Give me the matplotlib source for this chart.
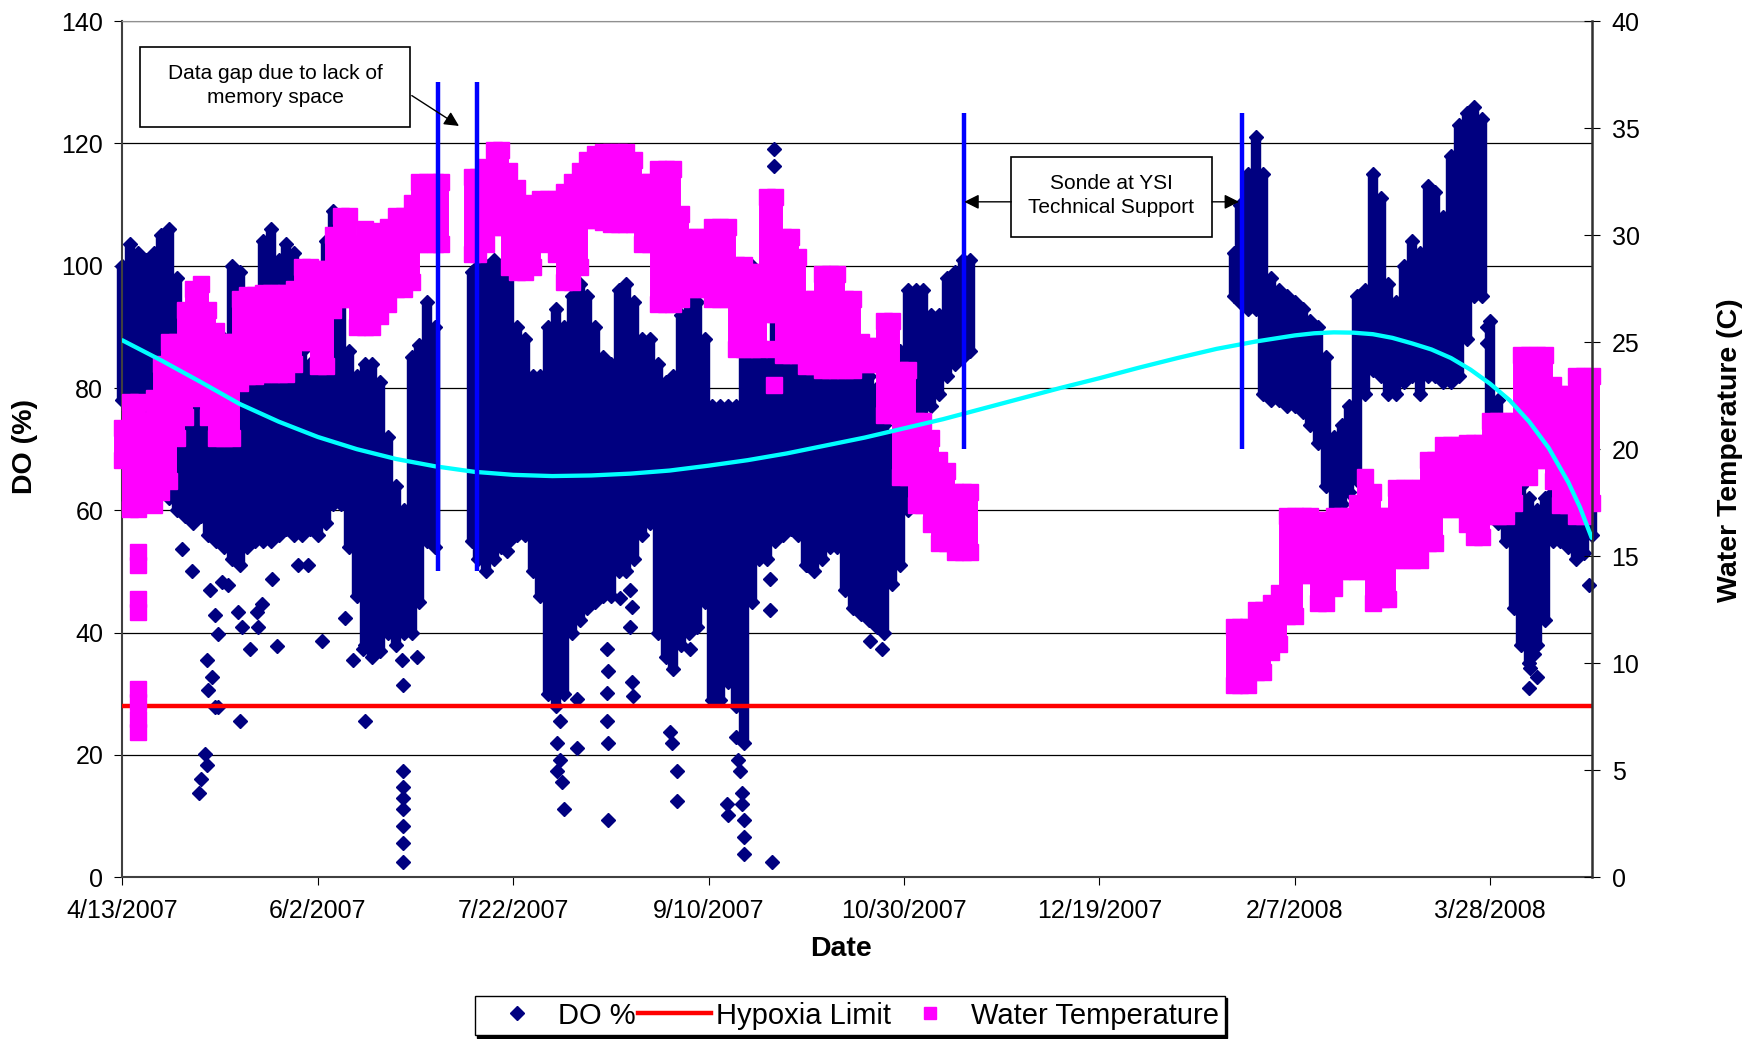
import matplotlib
matplotlib.use("Agg")
import matplotlib.pyplot as plt
from matplotlib.lines import Line2D
from matplotlib.patches import Rectangle

plt.rcParams['font.family'] = ['Liberation Sans', 'DejaVu Sans']

# x values are days after 4/13/2007
date_ticks = [0, 50, 100, 150, 200, 250, 300, 350]
date_labels = ['4/13/2007', '6/2/2007', '7/22/2007', '9/10/2007',
               '10/30/2007', '12/19/2007', '2/7/2008', '3/28/2008']

# DO % readings: low / high of the dense cloud, per ~2 day window
do_day = [0, 2, 4, 6, 8, 10, 12, 14, 16, 18, 20, 22, 24, 26, 28, 30, 32, 34, 36, 38,
          40, 42, 44, 46, 48, 50, 52, 54, 56, 58, 60, 62, 64, 66, 68, 70, 72, 74, 76, 78, 80,
          89.5, 91, 93, 95, 97, 99, 101, 103, 105, 107, 109, 111, 113, 115, 117, 119, 121,
          123, 125, 127, 129, 131, 133, 135, 137, 139, 141, 143, 145, 147, 149, 151, 153,
          155, 157, 159, 161, 163, 165, 167, 169, 171, 173, 175, 177, 179, 181, 183, 185,
          187, 189, 191, 193, 195, 197, 199, 201, 203, 205, 207, 209, 211, 213, 215, 217,
          284.5, 286, 288, 290, 292, 294, 296, 298, 300, 302, 304, 306, 308, 310, 312, 314,
          316, 318, 320, 322, 324, 326, 328, 330, 332, 334, 336, 338, 340, 342, 344, 346,
          348, 350, 352, 354, 356, 358, 360, 362, 364, 366, 368, 370, 372, 374, 376]
do_low = [78, 75, 74, 75, 72, 66, 62, 60, 59, 58, 59, 56, 55, 54, 52, 51, 54, 55, 55, 55,
          56, 57, 56, 56, 57, 56, 58, 61, 61, 54, 46, 38, 36, 37, 40, 38, 40, 40, 45, 55, 54,
          55, 52, 50, 52, 54, 55, 56, 56, 50, 46, 30, 28, 30, 40, 42, 44, 45,
          46, 46, 50, 50, 52, 56, 58, 40, 36, 34, 38, 40, 41, 45, 29, 29,
          32, 28, 22, 45, 52, 52, 55, 56, 57, 56, 51, 50, 52, 54, 54, 47,
          44, 43, 42, 41, 40, 48, 51, 60, 68, 72, 77, 79, 82, 84, 85, 86,
          95, 94, 93, 93, 79, 78, 78, 77, 77, 76, 74, 71, 64, 59, 61, 63,
          65, 79, 83, 82, 79, 79, 81, 82, 79, 82, 82, 81, 81, 82, 88, 95,
          95, 72, 58, 55, 44, 38, 35, 38, 42, 55, 55, 54, 52, 53, 56]
do_high = [100, 103.5, 102, 101, 102, 105, 106, 98, 88, 86, 85, 82, 80, 88, 100, 99, 86, 84, 104, 106,
           101, 103.5, 102, 86, 84, 86, 104, 109, 97, 86, 82, 84, 84, 81, 72, 64, 60, 85, 87, 94, 90,
           99, 100, 100, 101, 100, 99, 90, 88, 82, 82, 90, 93, 90, 95, 97, 95, 90,
           85, 84, 96, 97, 94, 88, 88, 84, 81, 82, 92, 96, 94, 88, 77, 77,
           77, 77, 88, 100, 95, 86, 92, 90, 88, 86, 82, 82, 82, 82, 85, 93,
           85, 83, 82, 80, 74, 72, 86, 96, 96, 96, 92, 92, 98, 99, 101, 101,
           102, 110, 115, 121, 115, 98, 96, 95, 94, 93, 91, 90, 85, 72, 74, 77,
           95, 96, 115, 111, 97, 94, 100, 104, 102, 113, 112, 108, 118, 123, 125, 126,
           124, 91, 78, 68, 65, 64, 62, 60, 62, 63, 62, 64, 66, 70, 72]

# isolated DO readings away from the cloud
do_pt_day = [15.2, 17.7, 19.5, 20.1, 21.2, 21.6, 22.0, 22.9, 23.7, 24.6, 22.4, 23.7, 24.6,
             21.6, 25.4, 27.1, 29.7, 30.5, 32.7, 34.4, 34.8, 35.7, 38.2, 39.5, 30.1, 45.0,
             47.6, 51.0, 57.0, 59.1, 61.7, 62.1, 71.5, 71.9, 75.3, 71.9, 71.9, 71.9, 71.9,
             71.9, 71.9, 71.9, 98.4, 112.0, 111.2, 112.0, 111.2, 112.5, 113.0, 116.3, 116.3,
             124.0, 124.4, 124.0, 124.0, 124.4, 124.4, 130.0, 130.4, 130.0, 130.4, 130.8,
             127.4, 140.2, 140.6, 141.9, 141.9, 145.3, 157.0, 157.5, 158.0, 158.5, 158.5,
             159.0, 159.0, 159.0, 154.7, 155.0, 164.1, 165.8, 165.8, 166.2, 166.7, 166.7,
             170.0, 175.2, 191.4, 194.4, 349.2, 349.2, 359.9, 360.3, 361.2, 362.0, 375.3]
do_pt_val = [53.7, 50.1, 13.8, 16.1, 20.1, 18.3, 30.6, 32.8, 27.9, 27.9, 46.9, 42.8, 39.7,
             35.6, 48.3, 47.8, 43.3, 41.0, 37.4, 43.3, 41.0, 44.6, 48.7, 37.8, 25.6, 51.0,
             51.0, 38.7, 42.4, 35.6, 37.4, 25.6, 35.6, 31.5, 36.0, 17.4, 14.7, 12.9, 11.1,
             8.3, 5.6, 2.5, 53.3, 25.6, 22.0, 19.2, 17.4, 15.6, 11.1, 29.2, 21.1,
             37.4, 33.8, 30.1, 25.6, 22.0, 9.3, 46.9, 44.2, 41.0, 31.9, 29.7,
             45.6, 23.8, 22.0, 17.4, 12.4, 37.4, 22.9, 19.2, 17.4, 13.8, 12.0,
             9.3, 6.5, 3.8, 12.0, 10.2, 52.8, 48.7, 43.7, 2.5, 119.1, 116.3,
             57.4, 51.0, 38.7, 37.4, 90.0, 87.3, 31.0, 34.2, 36.5, 32.8, 47.8]

# water temperature (C): low / high per ~2 day window
temp_day = [0, 2, 4, 6, 8, 10, 12, 14, 16, 18, 20, 22, 24, 26, 28, 30, 32, 34, 36, 38,
            40, 42, 44, 46, 48, 50, 52, 54, 56, 58, 60, 62, 64, 66, 68, 70, 72, 74, 76, 78,
            80, 81.5,
            89.5, 91, 93, 95, 97, 99, 101, 103, 105, 107, 109, 111, 113, 115, 117, 119, 121,
            123, 125, 127, 129, 131, 133, 135, 137, 139, 141, 143, 145, 147, 149, 151, 153,
            155, 157, 159, 161, 163, 165, 167, 169, 171, 173, 175, 177, 179, 181, 183, 185,
            187, 189, 191, 193, 195, 197, 199, 201, 203, 205, 207, 209, 211, 213, 215, 217,
            284.5, 286, 288, 290, 292, 294, 296, 298, 300, 302, 304, 306, 308, 310, 312, 314,
            316, 318, 320, 322, 324, 326, 328, 330, 332, 334, 336, 338, 340, 342, 344, 346,
            348, 350, 352, 354, 356, 358, 360, 362, 364, 366, 368, 370, 372, 374, 376]
temp_low = [19.5, 17.2, 17.2, 17.7, 17.4, 18.0, 18.5, 20.5, 21.5, 22.4, 23.1, 21.5, 20.5, 20.5,
            20.5, 23.1, 23.4, 23.4, 23.5, 23.5, 23.5, 23.5, 24.0, 25.0, 25.0, 23.9, 23.9, 26.5,
            27.0, 27.0, 25.7, 25.7, 25.7, 26.2, 26.8, 27.5, 27.5, 27.8, 29.6, 29.6, 29.6, 29.6,
            29.1, 29.1, 29.6, 30.4, 30.4, 28.5, 28.3, 28.3, 28.5, 29.9, 29.6, 29.1, 27.8, 27.8,
            28.5, 30.7, 30.7, 30.6, 30.5, 30.5, 30.5, 30.5, 29.6, 29.6, 26.8, 26.8, 26.8, 27.0,
            27.5, 27.5, 27.5, 27.0, 27.0, 27.0, 24.7, 24.7, 24.7, 24.7, 26.3, 26.3, 24.4, 24.4,
            24.4, 23.9, 23.9, 23.7, 23.7, 23.7, 23.7, 23.7, 24.0, 24.0, 24.0, 21.6, 21.6, 18.7,
            18.7, 17.4, 17.4, 16.5, 15.6, 15.6, 15.2, 15.2, 15.2,
            9.0, 9.0, 9.0, 9.6, 9.6, 10.5, 10.9, 12.2, 12.2, 14.1, 14.1, 12.8, 12.8, 13.5, 14.3,
            14.3, 14.3, 14.3, 12.8, 13.0, 13.0, 14.8, 14.8, 14.8, 14.8, 15.6, 15.6, 17.2, 17.2,
            17.2, 16.5, 15.9, 15.9, 16.9, 16.9, 16.9, 17.5, 18.7, 18.7, 19.5, 19.5, 18.5, 17.4,
            17.4, 16.9, 16.9, 17.5]
temp_high = [21.0, 22.2, 22.2, 21.3, 22.4, 24.0, 25.0, 25.0, 26.5, 27.5, 27.7, 26.5, 25.5, 25.0,
             25.0, 27.0, 27.2, 27.2, 27.3, 27.3, 27.3, 27.3, 27.5, 28.5, 28.5, 28.4, 28.4, 30.0,
             30.9, 30.9, 29.6, 30.3, 29.8, 30.2, 30.4, 30.9, 30.9, 31.5, 32.5, 32.5, 32.5, 32.5,
             32.7, 32.7, 33.2, 34.0, 34.0, 33.0, 32.2, 31.5, 31.2, 31.7, 31.7, 31.7, 32.0, 32.5,
             33.0, 33.5, 33.8, 33.9, 33.9, 33.9, 33.9, 33.5, 32.5, 32.5, 33.1, 33.1, 33.1, 31.0,
             29.9, 29.9, 29.9, 30.4, 30.4, 30.4, 28.6, 28.6, 28.3, 28.3, 31.8, 31.8, 29.9, 29.9,
             29.0, 27.0, 27.0, 28.2, 28.2, 28.2, 27.0, 27.0, 25.0, 24.8, 24.8, 26.0, 26.0, 23.7,
             23.7, 21.3, 21.3, 20.5, 19.5, 19.0, 18.0, 18.0, 18.0,
             11.7, 11.7, 11.7, 12.5, 12.5, 12.8, 13.3, 16.9, 16.9, 16.9, 16.9, 16.7, 16.7, 16.9,
             16.9, 16.9, 17.5, 18.7, 18.0, 16.9, 16.9, 18.2, 18.2, 18.2, 18.2, 19.5, 19.5, 20.2,
             20.2, 20.2, 20.3, 20.3, 20.3, 21.3, 21.3, 21.3, 21.3, 24.4, 24.4, 24.4, 24.4, 23.0,
             22.6, 22.6, 23.4, 23.4, 23.4]
temp_pt_day = [4.1, 4.1, 4.1, 4.1, 4.1, 4.1, 4.1, 4.1, 166.7, 166.7]
temp_pt_val = [15.2, 14.6, 13.0, 12.4, 8.8, 8.2, 7.4, 6.8, 24.7, 23.0]

hypoxia_limit = 28

# polynomial trend of DO as drawn
trend_day = [0, 10, 20, 30, 40, 50, 60, 70, 80, 90, 100, 110, 120, 130, 140, 150, 160, 170,
             180, 190, 200, 210, 220, 230, 240, 250, 260, 270, 280, 290, 300, 305, 310, 315,
             320, 325, 330, 335, 340, 345, 350, 355, 360, 365, 370, 373, 376]
trend_do = [87.8, 84.5, 81.0, 77.4, 74.5, 72.0, 70.0, 68.4, 67.2, 66.3, 65.8, 65.6, 65.7,
            66.0, 66.5, 67.3, 68.2, 69.3, 70.6, 71.9, 73.4, 74.9, 76.6, 78.3, 80.0, 81.6,
            83.3, 84.9, 86.4, 87.6, 88.6, 88.95, 89.1, 89.05, 88.8, 88.2, 87.3, 86.3, 84.9,
            83.0, 80.7, 78.0, 74.5, 70.2, 64.6, 60.5, 55.5]

# blue markers for the gaps in the record
gap_day = [80.7, 90.7, 215.3, 286.5]
gap_low = [50, 50, 70, 70]
gap_high = [130, 130, 125, 125]

navy = '#000080'
pink = '#FF00FF'

fig = plt.figure(figsize=(17.58, 10.39), dpi=100)
ax = fig.add_axes([0.0696, 0.1557, 0.8358, 0.8240])

ax.vlines(do_day, do_low, do_high, color=navy, lw=7.5, zorder=2, clip_on=False)
ax.plot(do_day, do_low, 'D', ms=7, color=navy, zorder=2, clip_on=False)
ax.plot(do_day, do_high, 'D', ms=7, color=navy, zorder=2, clip_on=False)
ax.plot(do_pt_day, do_pt_val, 'D', ms=7, color=navy, ls='none', zorder=2, clip_on=False)
ax.axhline(hypoxia_limit, color='red', lw=3.2, zorder=3)

ax.set_xlim(0, 376)
ax.set_ylim(0, 140)
ax.set_xticks(date_ticks, date_labels)
ax.set_yticks(range(0, 141, 20))
ax.yaxis.grid(True, color='black', lw=0.9)
ax.set_axisbelow(True)
ax.tick_params(axis='x', direction='out', length=5.8, pad=10, labelsize=18)
ax.tick_params(axis='y', direction='out', length=5.8, pad=8, labelsize=18)
ax.spines['top'].set_color('#909090')
ax.spines['right'].set_visible(False)
for s in ['left', 'bottom']:
    ax.spines[s].set_color('#404040')
    ax.spines[s].set_linewidth(1.5)

ax2 = ax.twinx()
ax2.vlines(temp_day, temp_low, temp_high, color=pink, lw=11.5, zorder=2, clip_on=False)
ax2.plot(temp_day, temp_low, 's', ms=11.5, color=pink, zorder=2, clip_on=False)
ax2.plot(temp_day, temp_high, 's', ms=11.5, color=pink, zorder=2, clip_on=False)
ax2.plot(temp_pt_day, temp_pt_val, 's', ms=11.5, color=pink, ls='none', zorder=2, clip_on=False)

ax2.plot(trend_day, trend_do, color='#00FFFF', lw=3.1, zorder=3, transform=ax.transData,
         solid_capstyle='round', solid_joinstyle='round')
ax2.vlines(gap_day, gap_low, gap_high, color='#0000FF', lw=3.2, zorder=4, transform=ax.transData)

ax2.set_xlim(0, 376)
ax2.set_ylim(0, 40)
ax2.set_yticks(range(0, 41, 5))
ax2.tick_params(axis='y', direction='inout', length=11.5, pad=8.6, labelsize=18)
for s in ['left', 'bottom', 'top']:
    ax2.spines[s].set_visible(False)
ax2.spines['right'].set_color('#303030')
ax2.spines['right'].set_linewidth(1.8)

# annotation boxes
ax2.add_patch(Rectangle((0.0120, 0.8763), 0.1838, 0.0935, transform=ax2.transAxes,
                        facecolor='white', edgecolor='black', lw=1.2, zorder=5))
ax2.text(0.1039, 0.9245, 'Data gap due to lack of\nmemory space', transform=ax2.transAxes,
         ha='center', va='center', fontsize=15, linespacing=1.35, zorder=6)
ax2.annotate('', xy=(0.2291, 0.8775), xytext=(0.1970, 0.9130), xycoords='axes fraction',
             arrowprops=dict(arrowstyle='-|>', color='black', lw=1, mutation_scale=22,
                             shrinkA=0, shrinkB=0), zorder=6)

ax2.add_patch(Rectangle((0.6050, 0.7483), 0.1366, 0.0930, transform=ax2.transAxes,
                        facecolor='white', edgecolor='black', lw=1.2, zorder=5))
ax2.text(0.6730, 0.7961, 'Sonde at YSI\nTechnical Support', transform=ax2.transAxes,
         ha='center', va='center', fontsize=15, linespacing=1.35, zorder=6)
ax2.annotate('', xy=(0.5730, 0.7889), xytext=(0.6050, 0.7889), xycoords='axes fraction',
             arrowprops=dict(arrowstyle='-|>', color='black', lw=1, mutation_scale=22,
                             shrinkA=0, shrinkB=0), zorder=6)
ax2.annotate('', xy=(0.7600, 0.7889), xytext=(0.7416, 0.7889), xycoords='axes fraction',
             arrowprops=dict(arrowstyle='-|>', color='black', lw=1, mutation_scale=22,
                             shrinkA=0, shrinkB=0), zorder=6)

fig.text(0.0142, 0.5707, 'DO (%)', rotation=90, ha='center', va='center',
         fontsize=20.5, fontweight='bold')
fig.text(0.9841, 0.5669, 'Water Temperature (C)', rotation=90, ha='center', va='center',
         fontsize=20.5, fontweight='bold')
fig.text(0.4784, 0.0866, 'Date', ha='center', va='center', fontsize=20.5, fontweight='bold')

handles = [Line2D([], [], marker='D', ms=7, color=navy, ls='none'),
           Line2D([], [], color='red', lw=3.2),
           Line2D([], [], marker='s', ms=9, color=pink, ls='none')]
fig.legend(handles, ['DO %', 'Hypoxia Limit', 'Water Temperature'], loc='center',
           bbox_to_anchor=(0.4833, 0.0226), ncol=3, fontsize=21, frameon=True,
           fancybox=False, edgecolor='black', framealpha=1,
           shadow={'color': 'black', 'alpha': 1}, handlelength=2.5, handletextpad=0.15,
           columnspacing=0.1, borderpad=0.2, borderaxespad=0)

fig.savefig('out.png', dpi=100)
